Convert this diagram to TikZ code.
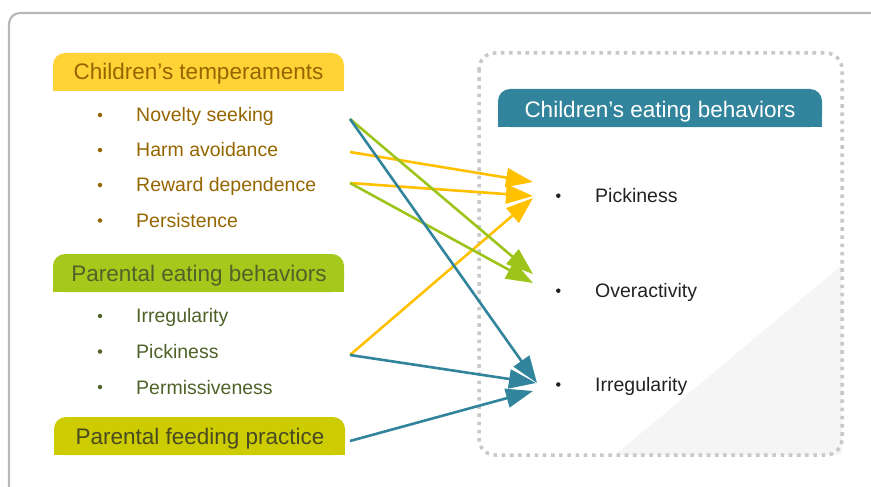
\documentclass[tikz,border=0pt]{standalone}
\usepackage{fontspec}
\setmainfont{Liberation Sans}
\usetikzlibrary{arrows.meta}
\definecolor{frameg}{HTML}{B8B8BC}
\definecolor{dotg}{HTML}{C8C8C8}
\definecolor{triag}{HTML}{F5F5F5}
\definecolor{yelfill}{HTML}{FFD236}
\definecolor{yeltext}{HTML}{956600}
\definecolor{grnfill}{HTML}{A5C81C}
\definecolor{grntext}{HTML}{4F6228}
\definecolor{olvfill}{HTML}{CCCC00}
\definecolor{olvtext}{HTML}{4A4A22}
\definecolor{tealc}{HTML}{31849B}
\definecolor{yelarr}{HTML}{FFC000}
\definecolor{grnarr}{HTML}{9DC41A}
\definecolor{darktext}{HTML}{222222}
\begin{document}
\begin{tikzpicture}[x=1pt,y=-1pt,
  headtext/.style={inner sep=0pt, anchor=base, font=\fontsize{22.5}{27}\selectfont},
  itemtext/.style={inner sep=0pt, anchor=base west, font=\fontsize{19.5}{23}\selectfont},
  bul/.style={circle, inner sep=0pt, minimum size=4.5pt},
  arr/.style={line width=2.6pt, -{Triangle[length=27pt,width=19pt]}},
]
\useasboundingbox (0,0) rectangle (871,487);
\clip (0,0) rectangle (871,487);
% outer frame
\draw[frameg, line width=2.2pt, rounded corners=11pt] (9,500) -- (9,13) -- (890,13);
% light triangle
\fill[triag] (615,455) -- (842,265) -- (842,455) -- cycle;
% dotted box
\draw[dotg, line width=3.5pt, dash pattern=on 3.6pt off 4.6pt, rounded corners=16pt] (479,53) rectangle (842,455);
% heading backgrounds
\fill[yelfill, rounded corners=12pt] (53,53) rectangle (344,91);
\fill[yelfill] (53,72) rectangle (344,91);
\fill[grnfill, rounded corners=12pt] (53,254) rectangle (344,292);
\fill[grnfill] (53,273) rectangle (344,292);
\fill[olvfill, rounded corners=12pt] (54,417) rectangle (345,455);
\fill[olvfill] (54,436) rectangle (345,455);
\fill[tealc, rounded corners=12pt] (498,89) rectangle (822,127);
\fill[tealc] (498,108) rectangle (822,127);
% headings
\node[headtext, text=yeltext] (hct) at (198.5,80) {Children’s temperaments};
\node[headtext, text=grntext] (hpe) at (199,281.5) {Parental eating behaviors};
\node[headtext, text=olvtext] (hpf) at (200,444) {Parental feeding practice};
\node[headtext, text=white] (hce) at (660,117.3) {Children’s eating behaviors};
% left items
\node[bul, fill=yeltext] (b1) at (100,115) {};
\node[bul, fill=yeltext] (b2) at (100,150) {};
\node[bul, fill=yeltext] (b3) at (100,185) {};
\node[bul, fill=yeltext] (b4) at (100,220.5) {};
\node[itemtext, text=yeltext] (nov) at (136,121.5) {Novelty seeking};
\node[itemtext, text=yeltext] (harm) at (136,156.7) {Harm avoidance};
\node[itemtext, text=yeltext] (rew) at (136,191.7) {Reward dependence};
\node[itemtext, text=yeltext] (pers) at (136,227.3) {Persistence};
\node[bul, fill=grntext] (b5) at (100,316) {};
\node[bul, fill=grntext] (b6) at (100,351.5) {};
\node[bul, fill=grntext] (b7) at (100,387) {};
\node[itemtext, text=grntext] (pirr) at (136,322.7) {Irregularity};
\node[itemtext, text=grntext] (ppick) at (136,358.3) {Pickiness};
\node[itemtext, text=grntext] (pperm) at (136,394) {Permissiveness};
% right items
\node[bul, fill=darktext] (r1) at (558.3,195.7) {};
\node[bul, fill=darktext] (r2) at (558.3,290.7) {};
\node[bul, fill=darktext] (r3) at (558.3,384.5) {};
\node[itemtext, text=darktext] (cpick) at (595,202.3) {Pickiness};
\node[itemtext, text=darktext] (cover) at (595,297.7) {Overactivity};
\node[itemtext, text=darktext] (cirr) at (595,391.7) {Irregularity};
% connector ends
\coordinate (snov) at (350,119);
\coordinate (sharm) at (350,152);
\coordinate (srew) at (350,183);
\coordinate (spick) at (350,355);
\coordinate (sfeed) at (350,441);
\coordinate (epick1) at (533,182);
\coordinate (epick2) at (533,196);
\coordinate (epick3) at (533,198);
\coordinate (eover1) at (533,274);
\coordinate (eover2) at (533,283);
\coordinate (eirr1) at (537,383);
\coordinate (eirr2) at (536,383);
\coordinate (eirr3) at (533,391);
% arrows
\draw[arr, yelarr] (sharm) -- (epick1);
\draw[arr, yelarr] (srew) -- (epick2);
\draw[arr, yelarr] (spick) -- (epick3);
\draw[arr, grnarr] (snov) -- (eover1);
\draw[arr, grnarr] (srew) -- (eover2);
\draw[arr, tealc] (snov) -- (eirr1);
\draw[arr, tealc] (spick) -- (eirr2);
\draw[arr, tealc] (sfeed) -- (eirr3);
\end{tikzpicture}
\end{document}
